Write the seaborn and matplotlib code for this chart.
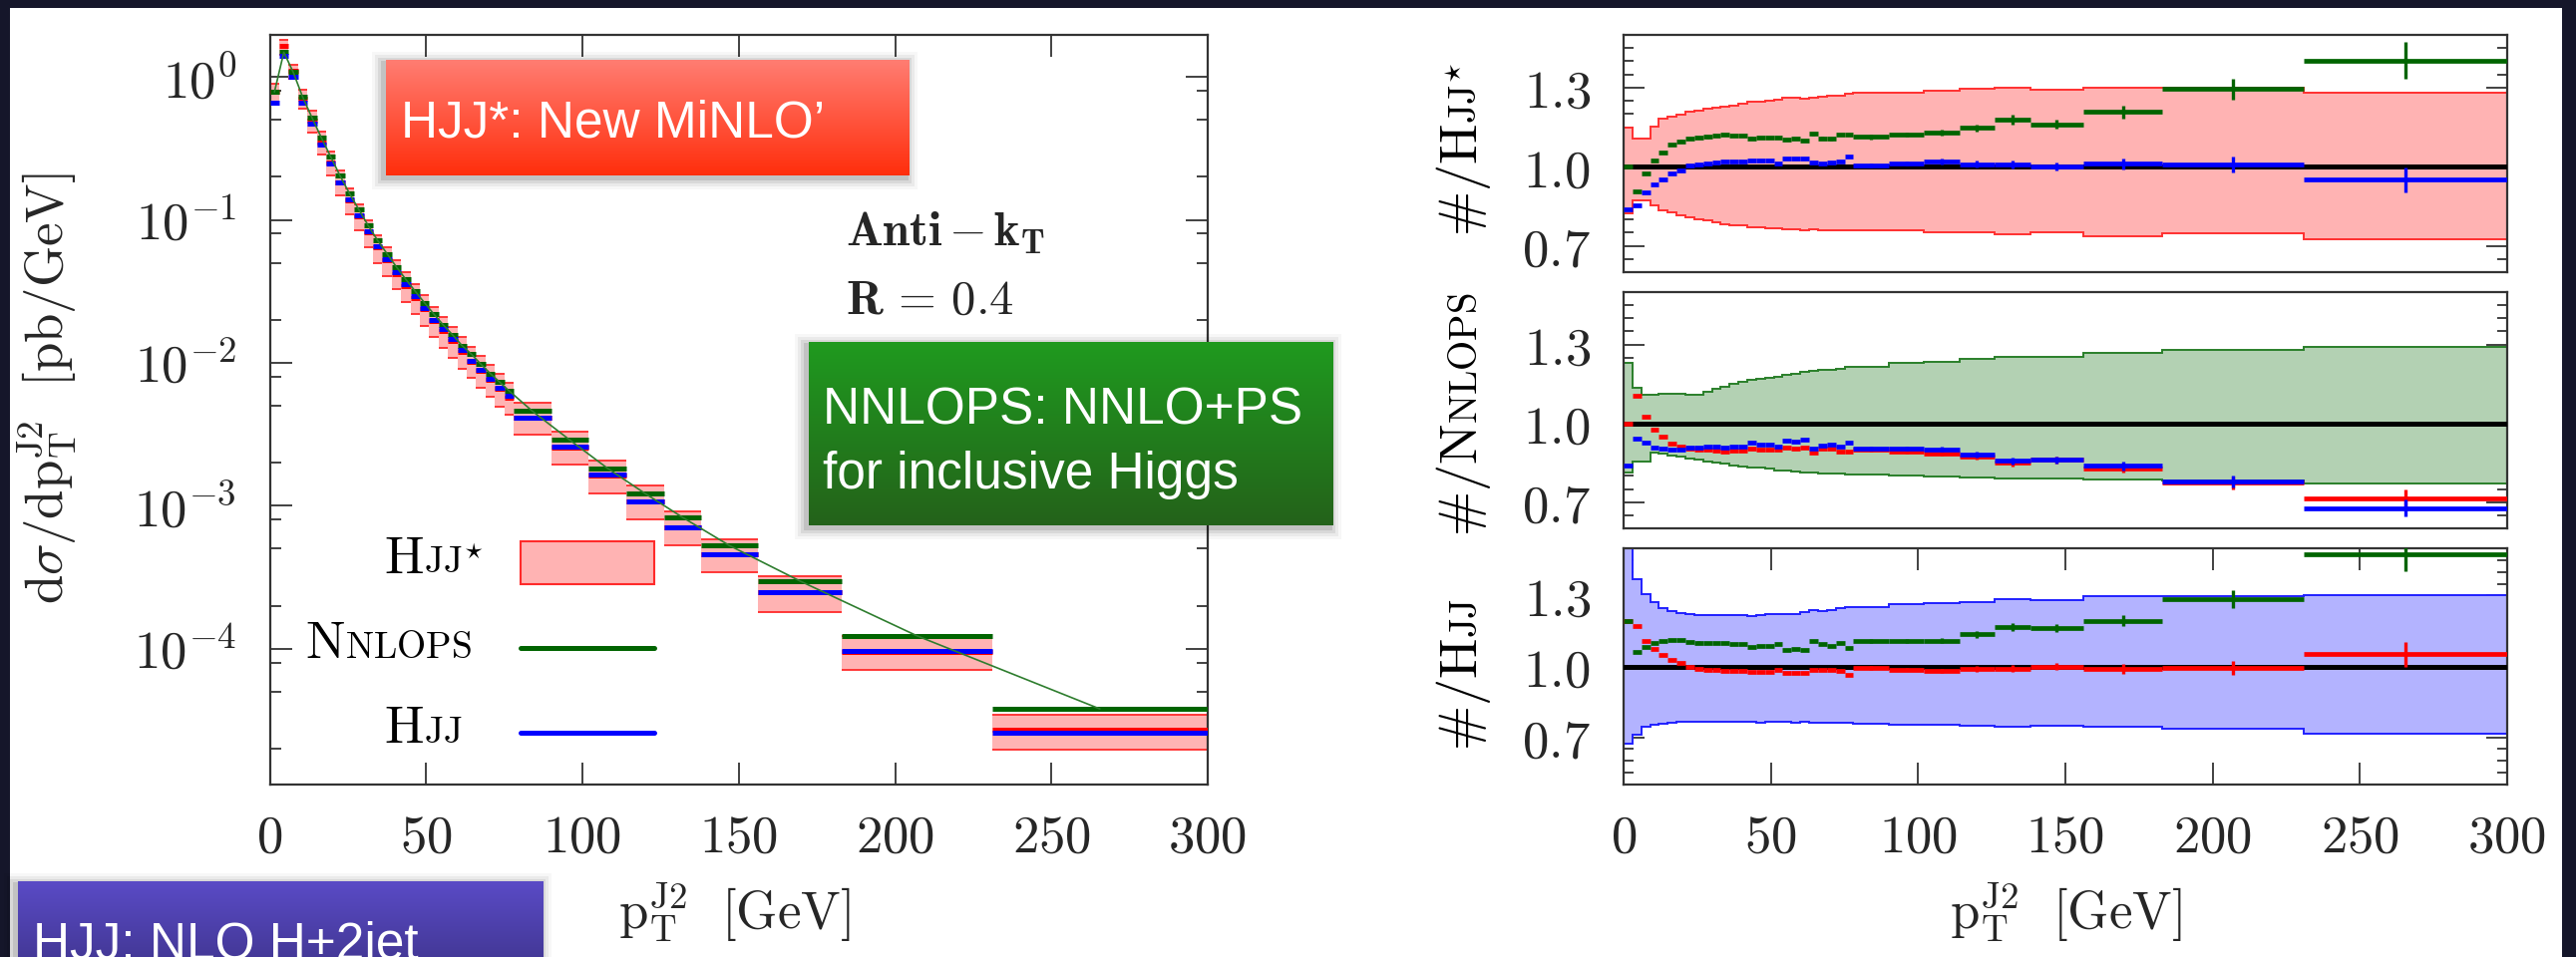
import numpy as np
import matplotlib
matplotlib.use("Agg")
import matplotlib.pyplot as plt
import seaborn as sns
from matplotlib.patches import Rectangle
from matplotlib.colors import LinearSegmentedColormap
from matplotlib.ticker import FixedLocator, NullFormatter, NullLocator

# ---------------- DATA ----------------
bin_edges = [0, 3, 6, 9, 12, 15, 18, 21, 24, 27, 30, 33, 36, 39, 42, 45, 48, 51, 54,
             57, 60, 63, 66, 69, 72, 75, 78, 90, 102, 114, 126, 138, 156, 183, 231, 300]

# NNLOPS absolute dsigma/dpT [pb/GeV]
nnlops = [0.786, 1.49, 1.08, 0.726, 0.519, 0.376, 0.276, 0.203, 0.153, 0.118, 0.0912,
          0.0718, 0.058, 0.0469, 0.0384, 0.0317, 0.0263, 0.0219, 0.0184, 0.01566, 0.0132,
          0.01149, 0.0098, 0.00843, 0.00734, 0.00638, 0.00459, 0.00288, 0.00183, 0.00122,
          0.00083, 0.000527, 0.000298, 0.000123, 3.79e-5]

# ratios to HJJ*
ratio_nnlops_hjjs = [1.0, 0.905, 0.975, 1.025, 1.055, 1.084, 1.097, 1.107, 1.111, 1.113,
                     1.117, 1.122, 1.117, 1.117, 1.108, 1.111, 1.111, 1.111, 1.103, 1.106,
                     1.100, 1.124, 1.108, 1.105, 1.121, 1.122, 1.113, 1.122, 1.131, 1.147,
                     1.178, 1.161, 1.207, 1.294, 1.402]
ratio_hjj_hjjs = [0.84, 0.854, 0.902, 0.932, 0.953, 0.975, 0.986, 1.004, 1.009, 1.013,
                  1.016, 1.019, 1.02, 1.02, 1.025, 1.023, 1.023, 1.013, 1.03, 1.03,
                  1.03, 1.015, 1.013, 1.016, 1.021, 1.039, 1.006, 1.013, 1.02, 1.01,
                  1.01, 1.0, 1.011, 1.008, 0.95]

# scale-variation bands (relative to own central value)
hjjs_band_up = [1.147, 1.107, 1.107, 1.151, 1.182, 1.189, 1.199, 1.208, 1.214, 1.219,
                1.224, 1.228, 1.233, 1.24, 1.245, 1.248, 1.252, 1.255, 1.262, 1.263,
                1.258, 1.262, 1.267, 1.27, 1.271, 1.275, 1.28, 1.28, 1.29, 1.295,
                1.299, 1.292, 1.299, 1.3, 1.28]
hjjs_band_dn = [0.824, 0.871, 0.871, 0.853, 0.836, 0.827, 0.817, 0.808, 0.8, 0.795,
                0.789, 0.783, 0.779, 0.776, 0.772, 0.769, 0.768, 0.766, 0.764, 0.763,
                0.759, 0.763, 0.76, 0.759, 0.758, 0.758, 0.757, 0.757, 0.75, 0.75,
                0.745, 0.75, 0.735, 0.747, 0.725]
nnlops_band_up = [1.232, 1.137, 1.11, 1.11, 1.113, 1.113, 1.113, 1.108, 1.108, 1.122,
                  1.131, 1.141, 1.15, 1.158, 1.164, 1.169, 1.174, 1.179, 1.184, 1.189,
                  1.197, 1.199, 1.202, 1.205, 1.209, 1.214, 1.214, 1.229, 1.236, 1.245,
                  1.255, 1.255, 1.27, 1.28, 1.29]
nnlops_band_dn = [0.813, 0.854, 0.854, 0.889, 0.885, 0.879, 0.873, 0.866, 0.861, 0.855,
                  0.85, 0.846, 0.841, 0.837, 0.832, 0.83, 0.826, 0.822, 0.82, 0.817,
                  0.813, 0.811, 0.81, 0.808, 0.807, 0.806, 0.806, 0.803, 0.797, 0.795,
                  0.791, 0.791, 0.786, 0.782, 0.772]
hjj_band_up = [1.55, 1.371, 1.308, 1.273, 1.245, 1.233, 1.226, 1.222, 1.219, 1.219,
               1.218, 1.217, 1.217, 1.217, 1.215, 1.217, 1.222, 1.222, 1.222, 1.222,
               1.228, 1.238, 1.234, 1.238, 1.245, 1.252, 1.252, 1.263, 1.267, 1.273,
               1.284, 1.28, 1.297, 1.297, 1.301]
hjj_band_dn = [0.675, 0.71, 0.745, 0.755, 0.759, 0.762, 0.764, 0.764, 0.765, 0.765,
               0.764, 0.765, 0.764, 0.764, 0.765, 0.763, 0.765, 0.764, 0.764, 0.763,
               0.765, 0.762, 0.763, 0.762, 0.762, 0.762, 0.757, 0.752, 0.752, 0.75,
               0.745, 0.748, 0.745, 0.738, 0.714]
# relative statistical error per bin
stat_err = [0.004] * 26 + [0.008, 0.008, 0.01, 0.012, 0.015, 0.015, 0.02, 0.03, 0.05]

x_ticks = [0, 50, 100, 150, 200, 250, 300]
main_yticks = [1e0, 1e-1, 1e-2, 1e-3, 1e-4]
main_ylabels = [r'$10^{0}$', r'$10^{-1}$', r'$10^{-2}$', r'$10^{-3}$', r'$10^{-4}$']
ratio_yticks = [0.7, 1.0, 1.3]

# ---------------- derived ----------------
edges = np.array(bin_edges, float)
lo, hi = edges[:-1], edges[1:]
centers = 0.5 * (lo + hi)
nn = np.array(nnlops)
r_n = np.array(ratio_nnlops_hjjs)
r_h = np.array(ratio_hjj_hjjs)
hjjs = nn / r_n
hjj = hjjs * r_h
err = np.array(stat_err)

RED, GREEN, BLUE = '#ff0000', '#006400', '#0000ff'

sns.set_theme(style="ticks")
plt.rcParams.update({
    'mathtext.fontset': 'cm',
    'font.family': ['DejaVu Serif'],
    'axes.unicode_minus': False,
})

W, H = 2583, 960
fig = plt.figure(figsize=(W / 100, H / 100), dpi=100, facecolor='#15162a')


def fx(px):
    return px / W


def fy(py):
    return 1 - py / H


fig.patches.append(Rectangle((fx(10), 0), fx(2569) - fx(10), fy(8), transform=fig.transFigure,
                             facecolor='white', lw=0, zorder=-10))


def style_axes(ax):
    ax.set_facecolor('white')
    for s in ax.spines.values():
        s.set_linewidth(1.6)
        s.set_color('#333333')


# ---------------- main plot ----------------
ax = fig.add_axes([fx(270.5), fy(787), (1211 - 270.5) / W, (787 - 35) / H])
style_axes(ax)
ax.set_yscale('log')
ax.bar(lo, hjjs * np.array(hjjs_band_up) - hjjs * np.array(hjjs_band_dn),
       bottom=hjjs * np.array(hjjs_band_dn), width=hi - lo, align='edge',
       color='#ffb3b3', lw=0, zorder=1)
ax.hlines(hjjs * np.array(hjjs_band_up), lo, hi, colors='#ff2a2a', lw=1.3, zorder=2)
ax.hlines(hjjs * np.array(hjjs_band_dn), lo, hi, colors='#ff2a2a', lw=1.3, zorder=2)
ax.hlines(hjjs, lo, hi, colors=RED, lw=3.6, zorder=3)
ax.hlines(nn, lo, hi, colors=GREEN, lw=3.6, zorder=4)
ax.hlines(hjj, lo, hi, colors=BLUE, lw=3.6, zorder=5)
sns.lineplot(x=centers, y=nn, ax=ax, color='#2e7d2e', lw=1.2, sort=False, legend=False,
             zorder=6)
ax.set_xlim(0, 300)
ax.set_ylim(1.12e-5, 1.97)
ax.set_xticks(x_ticks, labels=[rf'${v}$' for v in x_ticks])
ax.set_yticks(main_yticks, labels=main_ylabels)
ax.yaxis.set_minor_locator(FixedLocator([m * 10.0 ** k for k in range(-5, 1) for m in (2, 5, 8)]))
ax.yaxis.set_minor_formatter(NullFormatter())
ax.xaxis.set_minor_locator(NullLocator())
ax.tick_params(axis='both', which='major', direction='in', length=16, width=1.3,
               top=True, right=True, labelsize=38, color='#333333')
ax.tick_params(axis='y', which='major', pad=24)
ax.tick_params(axis='x', which='major', pad=20)
ax.tick_params(axis='y', which='minor', direction='in', length=8, width=1.3,
               left=True, right=True, color='#333333')
ax.set_xlabel('')
ax.set_ylabel('')

# legend handles (axes fraction)
ax.add_patch(Rectangle((0.2674, 0.2673), 0.1425, 0.0572, transform=ax.transAxes,
                       facecolor='#ffb3b3', edgecolor='#ff2a2a', lw=1.5, zorder=7))
ax.plot([0.2674, 0.4099], [0.1822, 0.1822], transform=ax.transAxes, color=GREEN, lw=3.6, zorder=7)
ax.plot([0.2674, 0.4099], [0.0691, 0.0691], transform=ax.transAxes, color=BLUE, lw=3.6, zorder=7)

renderer = fig.canvas.get_renderer()


def multi_text(x_px, y_px, parts, rotation=0, center=False):
    texts = []
    cur_x, cur_y = x_px, y_px
    total = 0
    for s, size in parts:
        t = fig.text(fx(cur_x), fy(cur_y), s, fontsize=size, ha='left', va='baseline',
                     rotation=rotation, rotation_mode='anchor', color='black', zorder=20)
        bb = t.get_window_extent(renderer)
        step = bb.width if rotation == 0 else bb.height
        texts.append((t, step))
        total += step
        if rotation == 0:
            cur_x += step
        else:
            cur_y -= step
    if center:
        shift = total / 2
        for t, _ in texts:
            px, py = t.get_position()
            t.set_position((px, py - shift / H))
    return texts


BIG, SMALL = 38, 27
multi_text(385, 575, [(r'$\mathrm{H}$', BIG), (r'$\mathrm{JJ}^{\star}$', SMALL)])
multi_text(306, 660, [(r'$\mathrm{N}$', BIG), (r'$\mathrm{NLOPS}$', SMALL)])
multi_text(385, 745, [(r'$\mathrm{H}$', BIG), (r'$\mathrm{JJ}$', SMALL)])

fig.text(fx(848), fy(247), r'$\mathbf{Anti}\,{-}\,\mathbf{k}_{\mathbf{T}}$', fontsize=35,
         ha='left', va='baseline', zorder=20)
fig.text(fx(848), fy(315), r'$\mathbf{R}\,{=}\,\mathbf{0.4}$', fontsize=35, ha='left',
         va='baseline', zorder=20)

fig.text(fx(48), fy(390), r'$\mathrm{d}\sigma/\mathrm{dp}_{\mathrm{T}}^{\mathrm{J2}}\ \ [\mathrm{pb/GeV}]$',
         fontsize=38, rotation=90, ha='center', va='center')
fig.text(fx(736), fy(916), r'$\mathrm{p}_{\mathrm{T}}^{\mathrm{J2}}\ \ [\mathrm{GeV}]$',
         fontsize=38, ha='center', va='center')
fig.text(fx(2071), fy(916), r'$\mathrm{p}_{\mathrm{T}}^{\mathrm{J2}}\ \ [\mathrm{GeV}]$',
         fontsize=38, ha='center', va='center')

# ---------------- ratio panels ----------------
RB, RS = 39, 28
panel_specs = [
    (35, 273, (0.6, 1.5), hjjs_band_up, hjjs_band_dn, '#ffb3b3', '#ff3030',
     [(r_n, GREEN), (r_h, BLUE)],
     [(r'$\#/\mathrm{H}$', RB), (r'$\mathrm{JJ}^{\star}$', RS)], 150),
    (293, 530, (0.6, 1.5), nnlops_band_up, nnlops_band_dn, '#b3d1b3', '#2a7f2a',
     [(1 / r_n, RED), (r_h / r_n, BLUE)],
     [(r'$\#/\mathrm{N}$', RB), (r'$\mathrm{NLOPS}$', RS)], 416),
    (550, 787, (0.5, 1.5), hjj_band_up, hjj_band_dn, '#b3b3ff', '#2020ff',
     [(1 / r_h, RED), (r_n / r_h, GREEN)],
     [(r'$\#/\mathrm{H}$', RB), (r'$\mathrm{JJ}$', RS)], 676),
]

for i, (top, bot, ylim, up, dn, fill, edge, series, label, ycen) in enumerate(panel_specs):
    rax = fig.add_axes([fx(1628), fy(bot), (2514 - 1628) / W, (bot - top) / H])
    style_axes(rax)
    up = np.array(up)
    dn = np.array(dn)
    rax.stairs(up, edges, baseline=dn, fill=True, color=fill, lw=0, zorder=1)
    rax.stairs(up, edges, baseline=None, color=edge, lw=1.4, zorder=2)
    rax.stairs(dn, edges, baseline=None, color=edge, lw=1.4, zorder=2)
    rax.axhline(1.0, color='black', lw=3.6, zorder=3)
    for vals, col in series:
        rax.hlines(vals, lo, hi, colors=col, lw=3.4, zorder=4)
        rax.vlines(centers, vals * (1 - err), vals * (1 + err), colors=col, lw=2.4, zorder=4)
    rax.set_xlim(0, 300)
    rax.set_ylim(*ylim)
    rax.set_yticks(ratio_yticks, labels=[rf'${v:.1f}$' for v in ratio_yticks])
    rax.yaxis.set_minor_locator(FixedLocator(np.round(np.arange(0.5, 1.5001, 0.05), 3)))
    rax.yaxis.set_minor_formatter(NullFormatter())
    rax.xaxis.set_minor_locator(NullLocator())
    rax.tick_params(axis='y', which='major', direction='in', length=15, width=1.3,
                    left=True, right=True, labelsize=38, pad=24, color='#333333')
    rax.tick_params(axis='y', which='minor', direction='in', length=7, width=1.3,
                    left=True, right=True, color='#333333')
    if i < 2:
        rax.set_xticks(x_ticks)
        rax.tick_params(axis='x', which='both', bottom=False, top=False, labelbottom=False)
    else:
        rax.set_xticks(x_ticks, labels=[rf'${v}$' for v in x_ticks])
        rax.tick_params(axis='x', which='major', direction='in', length=16, width=1.3,
                        top=True, bottom=True, labelsize=38, pad=20, color='#333333')
    rax.set_xlabel('')
    rax.set_ylabel('')
    multi_text(1481, ycen, label, rotation=90, center=True)


# ---------------- slide overlay boxes ----------------
def slide_box(x0, y0, x1, y1, c_top, c_bot, lines, tx, baselines, size=37):
    for k, a in enumerate([0.10, 0.07, 0.05, 0.03]):
        d = 2 + 3 * k
        fig.patches.append(Rectangle((fx(x0 - d - 3), fy(y1 + d + 3)),
                                     (x1 - x0 + 2 * d) / W, (y1 - y0 + 2 * d) / H,
                                     transform=fig.transFigure, facecolor='black',
                                     alpha=a, lw=0, zorder=8))
    bax = fig.add_axes([fx(x0), fy(y1), (x1 - x0) / W, (y1 - y0) / H], zorder=10)
    grad = np.linspace(0, 1, 256)[:, None]
    cmap = LinearSegmentedColormap.from_list('g', [c_top, c_bot])
    bax.imshow(grad, aspect='auto', cmap=cmap, extent=[0, 1, 0, 1], origin='upper')
    bax.set_axis_off()
    for line, by in zip(lines, baselines):
        fig.text(fx(tx), fy(by), line, color='white', fontsize=size,
                 family=['Liberation Sans', 'DejaVu Sans'], ha='left', va='baseline', zorder=11)


slide_box(387, 60, 912, 176, '#ff7d72', '#ff2e0c', ["HJJ*: New MiNLO\u2019"], 402, [137])
slide_box(811, 343, 1337, 527, '#1f9a1f', '#24621a',
          ["NNLOPS: NNLO+PS", "for inclusive Higgs"], 825, [425.5, 490])
slide_box(18, 884, 545, 975, '#5a4bc6', '#40358f', ["HJJ: NLO H+2jet"], 33, [962])

fig.savefig("out.png", dpi=100, facecolor=fig.get_facecolor())
